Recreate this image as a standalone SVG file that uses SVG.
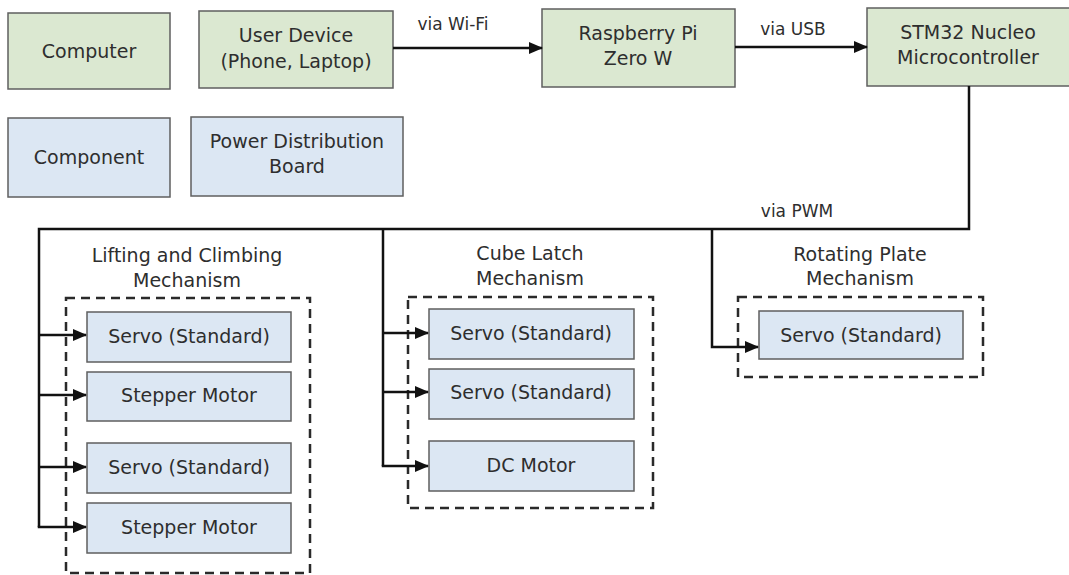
<svg xmlns="http://www.w3.org/2000/svg" width="1069" height="575" viewBox="0 0 1069 575">
  <style>
    .host { fill: #dbe8d1; stroke: #5f5f5f; stroke-width: 1.5; }
    .part { fill: #dce7f3; stroke: #5f5f5f; stroke-width: 1.5; }
    .group { fill: none; stroke: #2a2a2a; stroke-width: 2.5; stroke-dasharray: 9 6; }
    .label { font-family: "DejaVu Sans", "Liberation Sans", sans-serif; font-size: 19px; fill: #2e2e2e; text-anchor: middle; }
    .edge-label { font-family: "DejaVu Sans", "Liberation Sans", sans-serif; font-size: 17px; fill: #2e2e2e; text-anchor: middle; }
    .wire { fill: none; stroke: #111; stroke-width: 2.5; }
    .arrow { fill: none; stroke: #111; stroke-width: 2.5; marker-end: url(#head); }
  </style>
  <defs>
    <marker id="head" viewBox="0 0 14 12" refX="13" refY="6" markerWidth="14" markerHeight="12" markerUnits="userSpaceOnUse" orient="auto">
      <path d="M0,0 L14,6 L0,12 z" fill="#111"/>
    </marker>
  </defs>
  <rect width="1069" height="575" fill="#ffffff"/>

  <!-- legend -->
  <g id="legend-computer">
    <rect class="host" x="8" y="13" width="162" height="76"/>
    <text class="label" x="89" y="58">Computer</text>
  </g>
  <g id="legend-component">
    <rect class="part" x="8" y="118" width="162" height="79"/>
    <text class="label" x="89" y="164">Component</text>
  </g>

  <!-- control chain -->
  <g id="user-device">
    <rect class="host" x="199" y="11" width="194" height="77"/>
    <text class="label" x="296" y="42">User Device</text>
    <text class="label" x="296" y="68">(Phone, Laptop)</text>
  </g>
  <g id="power-board">
    <rect class="part" x="191" y="117" width="212" height="79"/>
    <text class="label" x="297" y="148">Power Distribution</text>
    <text class="label" x="297" y="173">Board</text>
  </g>
  <g id="raspberry-pi">
    <rect class="host" x="542" y="9" width="193" height="78"/>
    <text class="label" x="638" y="40">Raspberry Pi</text>
    <text class="label" x="638" y="65">Zero W</text>
  </g>
  <g id="stm32">
    <rect class="host" x="867" y="8" width="210" height="78"/>
    <text class="label" x="968" y="39">STM32 Nucleo</text>
    <text class="label" x="968" y="64">Microcontroller</text>
  </g>

  <!-- mechanism groups -->
  <g id="lifting-mechanism">
    <rect class="group" x="66" y="298" width="244" height="275"/>
    <text class="label" x="187" y="262">Lifting and Climbing</text>
    <text class="label" x="187" y="287">Mechanism</text>
  </g>
  <g id="lift-servo-1">
    <rect class="part" x="87" y="312" width="204" height="50"/>
    <text class="label" x="189" y="343">Servo (Standard)</text>
  </g>
  <g id="lift-stepper-1">
    <rect class="part" x="87" y="372" width="204" height="49"/>
    <text class="label" x="189" y="402">Stepper Motor</text>
  </g>
  <g id="lift-servo-2">
    <rect class="part" x="87" y="443" width="204" height="50"/>
    <text class="label" x="189" y="474">Servo (Standard)</text>
  </g>
  <g id="lift-stepper-2">
    <rect class="part" x="87" y="503" width="204" height="50"/>
    <text class="label" x="189" y="534">Stepper Motor</text>
  </g>

  <g id="latch-mechanism">
    <rect class="group" x="408" y="297" width="245" height="211"/>
    <text class="label" x="530" y="260">Cube Latch</text>
    <text class="label" x="530" y="285">Mechanism</text>
  </g>
  <g id="latch-servo-1">
    <rect class="part" x="429" y="309" width="205" height="50"/>
    <text class="label" x="531" y="340">Servo (Standard)</text>
  </g>
  <g id="latch-servo-2">
    <rect class="part" x="429" y="369" width="205" height="50"/>
    <text class="label" x="531" y="399">Servo (Standard)</text>
  </g>
  <g id="latch-dc-motor">
    <rect class="part" x="429" y="441" width="205" height="50"/>
    <text class="label" x="531" y="472">DC Motor</text>
  </g>

  <g id="plate-mechanism">
    <rect class="group" x="738" y="297" width="245" height="80"/>
    <text class="label" x="860" y="261">Rotating Plate</text>
    <text class="label" x="860" y="285">Mechanism</text>
  </g>
  <g id="plate-servo">
    <rect class="part" x="759" y="311" width="204" height="48"/>
    <text class="label" x="861" y="342">Servo (Standard)</text>
  </g>

  <!-- connectors -->
  <g id="connectors">
    <path class="arrow" d="M393,48 H542"/>
    <text class="edge-label" x="453" y="30">via Wi-Fi</text>
    <path class="arrow" d="M735,47 H867"/>
    <text class="edge-label" x="793" y="35">via USB</text>

    <!-- PWM bus -->
    <path class="wire" d="M969,86 V229 H39 V527"/>
    <text class="edge-label" x="797" y="217">via PWM</text>
    <path class="arrow" d="M39,335 H86"/>
    <path class="arrow" d="M39,395 H86"/>
    <path class="arrow" d="M39,467 H86"/>
    <path class="arrow" d="M37.75,527 H86"/>

    <path class="wire" d="M383,229 V466"/>
    <path class="arrow" d="M383,333 H428"/>
    <path class="arrow" d="M383,392 H428"/>
    <path class="arrow" d="M381.75,466 H428"/>

    <path class="arrow" d="M712,229 V347 H758"/>
  </g>
</svg>
